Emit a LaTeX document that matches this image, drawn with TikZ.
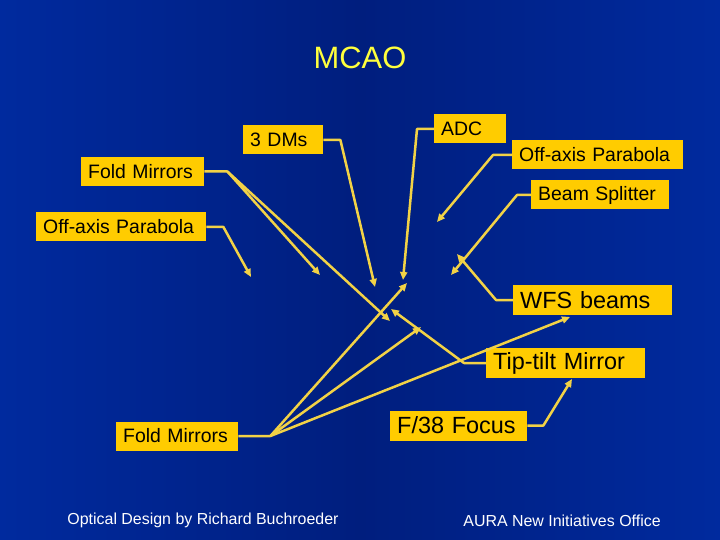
\documentclass[tikz,border=0pt]{standalone}
\usepackage{fontspec}
\setmainfont{Liberation Sans}
\usepackage{xcolor}
\definecolor{slidebg}{RGB}{0,42,158}
\definecolor{slidemid}{RGB}{0,30,126}
\definecolor{gold}{RGB}{255,204,0}
\definecolor{wire}{RGB}{242,210,70}
\definecolor{titleyel}{RGB}{255,255,60}
\usepackage{tikz}
\usetikzlibrary{arrows.meta}
\tikzset{
  lbl/.style={fill=gold,inner xsep=7bp,inner ysep=0pt,minimum height=29bp,%
    align=left,anchor=west,text=black,font=\fontsize{19.5}{22}\selectfont},
  big/.style={font=\fontsize{23.5}{26}\selectfont,minimum height=30bp},
  flow/.style={-{Triangle[length=8bp,width=7bp]},line width=2.5bp,draw=wire,line join=round},
  foot/.style={text=white,font=\fontsize{16}{18}\selectfont},
}

\begin{document}
\begin{tikzpicture}[x=1bp,y=-1bp]
\shade[left color=slidebg,right color=slidebg,middle color=slidemid] (0,0) rectangle (720,540);
\useasboundingbox (0,0) rectangle (720,540);
\node[text=titleyel,font=\fontsize{31}{33}\selectfont] (title) at (360,58) {MCAO};
% labels
\node[lbl,text width=66bp]  (dms)     at (243,140)   {3 DMs};
\node[lbl,text width=109bp] (foldtop) at (81,171.5)  {Fold Mirrors};
\node[lbl,text width=156bp] (oapl)    at (36,227)    {Off-axis Parabola};
\node[lbl,text width=58bp]  (adc)     at (434,129)   {ADC};
\node[lbl,text width=157bp] (oapr)    at (512,155)   {Off-axis Parabola};
\node[lbl,text width=124bp] (bs)      at (531,195)   {Beam Splitter};
\node[lbl,big,text width=145bp] (wfs) at (513,300)   {WFS beams};
\node[lbl,big,text width=145bp] (tt)  at (486,363)   {Tip-tilt Mirror};
\node[lbl,big,text width=123bp] (f38) at (390,425.5) {F/38 Focus};
\node[lbl,text width=108bp] (foldbot) at (116,436)   {Fold Mirrors};
\node[foot] (credit) at (203,520) {Optical Design by Richard Buchroeder};
\node[foot] (aura)   at (562,521) {AURA New Initiatives Office};
% arrow ends
\coordinate (dmsT)   at (375,287);
\coordinate (ftA)    at (320,275);
\coordinate (ftB)    at (390,321);
\coordinate (oaplT)  at (251,277);
\coordinate (adcT)   at (403,280);
\coordinate (oaprT)  at (437,222);
\coordinate (bsT)    at (451,275);
\coordinate (wfsT)   at (457,254);
\coordinate (ttT)    at (391,309);
\coordinate (f38T)   at (572,379);
\coordinate (fbA)    at (407,283);
\coordinate (fbB)    at (421,327);
\coordinate (fbC)    at (570,317);
% connectors
\draw[flow] (dms.east) -- ++(17,0) -- (dmsT);
\draw[flow] (foldtop.east) -- ++(23,0) coordinate (ftK) -- (ftA);
\draw[flow] (ftK) -- (ftB);
\draw[flow] (oapl.east) -- ++(17,0) -- (oaplT);
\draw[flow] (adc.west) -- ++(-17,0) -- (adcT);
\draw[flow] (oapr.west) -- ++(-19,0) -- (oaprT);
\draw[flow] (bs.west) -- ++(-14,0) -- (bsT);
\draw[flow] (wfs.west) -- ++(-17,0) -- (wfsT);
\draw[flow] (tt.west) -- ++(-22,0) -- (ttT);
\draw[flow] (f38.east) -- ++(16,0) -- (f38T);
\draw[flow] (foldbot.east) -- ++(32,0) coordinate (fbK) -- (fbA);
\draw[flow] (fbK) -- (fbB);
\draw[flow] (fbK) -- (fbC);
\end{tikzpicture}
\end{document}
